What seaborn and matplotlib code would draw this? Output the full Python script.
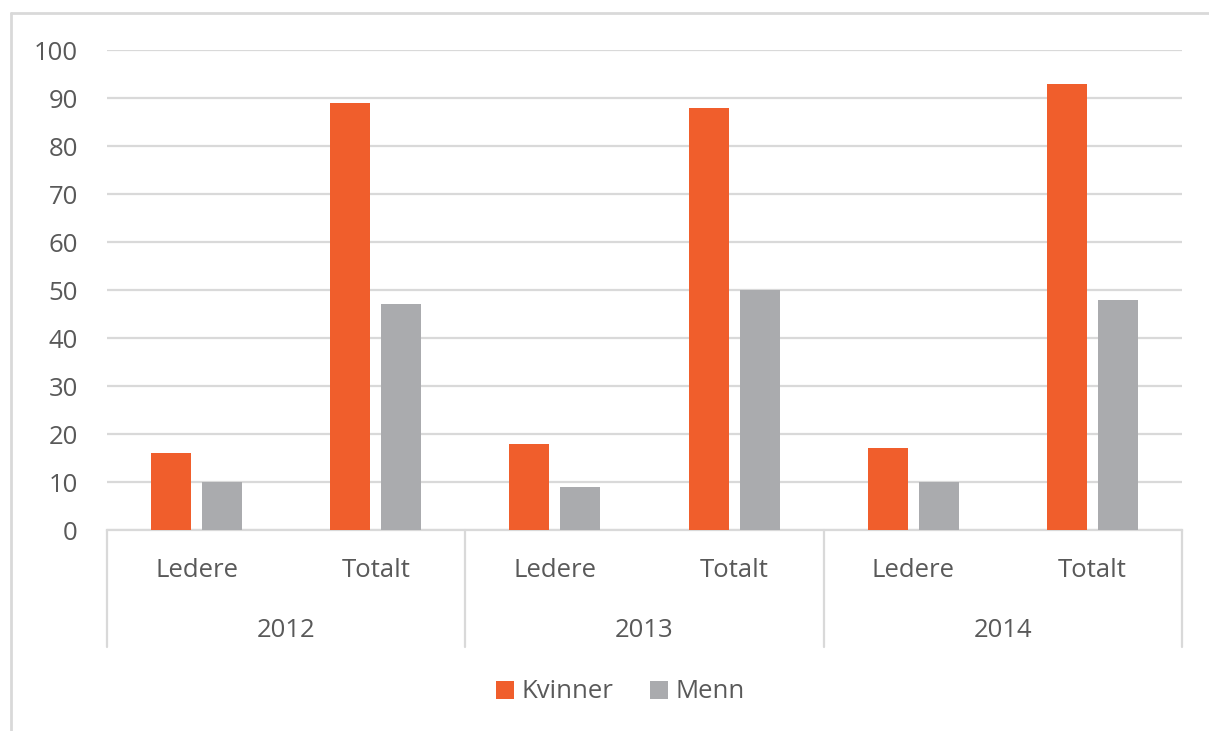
import pandas as pd
import numpy as np
import matplotlib.pyplot as plt
import seaborn as sns
from matplotlib.lines import Line2D

years = ["2012", "2013", "2014"]
groups = ["Ledere", "Totalt"]
series = ["Kvinner", "Menn"]
kvinner = [16, 89, 18, 88, 17, 93]
menn = [10, 47, 9, 50, 10, 48]
colors = ["#F05E2C", "#AAABAE"]

cats = [y + " " + g for y in years for g in groups]
df = pd.DataFrame({
    "cat": cats * 2,
    "val": kvinner + menn,
    "serie": [series[0]] * 6 + [series[1]] * 6,
})

sns.set_style("white")
plt.rcParams["font.family"] = ["Open Sans", "DejaVu Sans"]
txt = "#595959"
grid = "#D9D9D9"
fs = 18.5

fig = plt.figure(figsize=(12.09, 7.31), dpi=100)
ax = fig.add_axes([107 / 1209, 1 - 530 / 731, (1182 - 107) / 1209, 480 / 731])

sns.barplot(data=df, x="cat", y="val", hue="serie", order=cats, hue_order=series,
            palette=colors, width=0.57, gap=0.216, saturation=1, linewidth=0,
            ax=ax, zorder=3)

ax.set_ylim(0, 100)
ax.set_xlim(-0.5, 5.5)
ax.set_yticks(range(0, 101, 10))
ax.tick_params(axis="y", length=0, pad=21, labelsize=fs, labelcolor=txt)
ax.set_xticks([])
ax.set_xlabel("")
ax.set_ylabel("")
ax.yaxis.grid(True, color=grid, lw=1.6, zorder=0)
for s in ["top", "right", "left"]:
    ax.spines[s].set_visible(False)
ax.spines["bottom"].set_color(grid)
ax.spines["bottom"].set_linewidth(1.6)

trans = ax.get_xaxis_transform()
for xs in [-0.5, 1.5, 3.5, 5.5]:
    ax.add_line(Line2D([xs, xs], [0, -0.244], transform=trans, color=grid,
                       lw=1.6, clip_on=False))
for i, c in enumerate(cats):
    ax.text(i, -0.085, c.split(" ")[1], transform=trans, ha="center", va="center",
            fontsize=fs, color=txt)
for j, y in enumerate(years):
    ax.text(2 * j + 0.5, -0.209, y, transform=trans, ha="center", va="center",
            fontsize=fs, color=txt)

handles, labels = ax.get_legend_handles_labels()
ax.get_legend().remove()
fig.legend(handles, labels, loc="center", bbox_to_anchor=(0.513, 1 - 692 / 731),
           ncol=2, frameon=False, fontsize=fs, labelcolor=txt,
           handlelength=0.7, handleheight=0.7, handletextpad=0.3, columnspacing=1.4)

# outer chart frame (only top and left visible in the crop)
fig.add_artist(Line2D([11 / 1209, 11 / 1209], [0, 1 - 13 / 731], transform=fig.transFigure,
                      color=grid, lw=2))
fig.add_artist(Line2D([11 / 1209, 1], [1 - 13 / 731, 1 - 13 / 731], transform=fig.transFigure,
                      color=grid, lw=2))

fig.savefig("out.png", dpi=100)
